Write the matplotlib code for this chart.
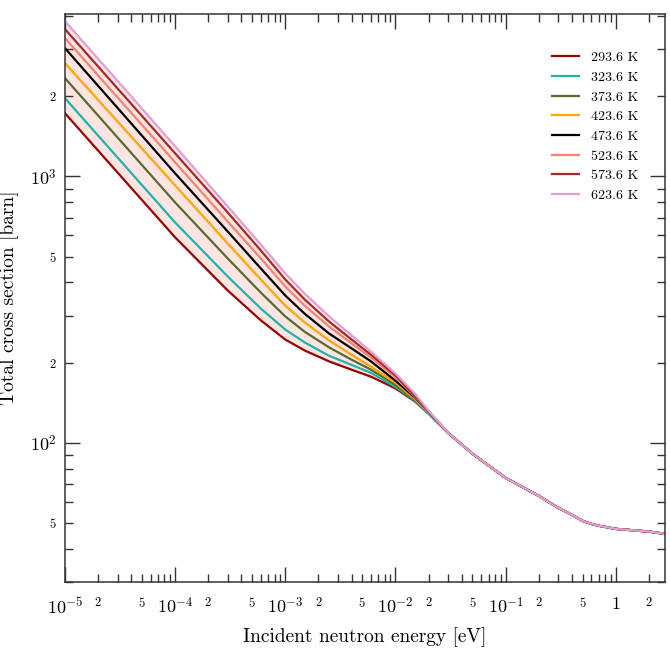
import numpy as np
import matplotlib
matplotlib.use("Agg")
import matplotlib.pyplot as plt
from matplotlib.ticker import LogLocator, FuncFormatter

plt.rcParams['font.family'] = 'serif'
plt.rcParams['font.serif'] = ['cmr10']
plt.rcParams['mathtext.fontset'] = 'cm'
plt.rcParams['axes.formatter.use_mathtext'] = True

# energies [eV] where the curves still differ
energy_low = [1e-5, 1e-4, 3e-4, 6e-4, 1e-3, 1.5e-3, 2.5e-3, 4e-3, 6e-3,
              1e-2, 1.5e-2, 2e-2]
# energies where all temperatures coincide
energy_tail = [3e-2, 5e-2, 0.1, 0.2, 0.3, 0.4, 0.5, 0.6, 0.7, 1.0, 2.0, 2.8]
xs_tail = [109, 91, 73.8, 63.2, 57.0, 53.6, 50.9, 49.6, 48.8, 47.5, 46.4, 45.5]

temps = ['293.6 K', '323.6 K', '373.6 K', '423.6 K',
         '473.6 K', '523.6 K', '573.6 K', '623.6 K']
xs_low = {
    '293.6 K': [1725, 590, 373, 288, 244, 222, 202, 188, 177, 160, 143, 128.5],
    '323.6 K': [1965, 671, 421, 319, 266, 238, 212, 196, 183, 162, 144, 128.5],
    '373.6 K': [2336, 798, 492, 366, 298, 261, 228, 205, 188, 165, 145, 130],
    '423.6 K': [2660, 925, 560, 410, 327, 283, 242, 214, 193, 168, 146, 130],
    '473.6 K': [3028, 1026, 621, 451, 357, 305, 257, 226, 202, 171, 148, 131],
    '523.6 K': [3303, 1129, 677, 492, 386, 327, 273, 236, 209, 176, 149, 131],
    '573.6 K': [3569, 1220, 732, 527, 410, 345, 285, 244, 214, 179, 150, 131],
    '623.6 K': [3825, 1297, 771, 555, 432, 363, 298, 253, 220, 182, 153, 132],
}
colors = ['#990000', '#20b2aa', '#556b2f', '#ffa500',
          '#000000', '#fa8072', '#a52a2a', '#dda0dd']

energy = np.array(energy_low + energy_tail)

fig = plt.figure(figsize=(6.7, 6.59), dpi=100)
ax = fig.add_axes([0.097, 0.1168, 0.8955, 0.862])

curves = {t: np.array(xs_low[t] + xs_tail, dtype=float) for t in temps}
ax.fill_between(energy, curves[temps[0]], curves[temps[-1]],
                color='salmon', alpha=0.2, linewidth=0)
for t, c in zip(temps, colors):
    ax.plot(energy, curves[t], color=c, lw=1.6, label=t)

ax.set_xscale('log')
ax.set_yscale('log')
ax.set_xlim(1e-5, 2.8)
ax.set_ylim(30, 4070)

def major_fmt(v, pos):
    e = int(round(np.log10(v)))
    if e == 0:
        return '$1$'
    return '$10^{%d}$' % e

def minor_fmt(v, pos):
    m = v / 10 ** np.floor(np.log10(v) + 1e-9)
    m = int(round(m))
    return '$%d$' % m if m in (2, 5) else ''

for axis in (ax.xaxis, ax.yaxis):
    axis.set_major_locator(LogLocator(base=10, numticks=20))
    axis.set_minor_locator(LogLocator(base=10, subs=np.arange(2, 10), numticks=20))
    axis.set_major_formatter(FuncFormatter(major_fmt))
    axis.set_minor_formatter(FuncFormatter(minor_fmt))

ax.tick_params(which='both', direction='in', top=True, right=True,
               color='#333333', width=1.0)
ax.tick_params(which='major', length=11, labelsize=13)
ax.tick_params(which='minor', length=5.5, labelsize=9)
ax.tick_params(axis='x', which='both', pad=10)
ax.tick_params(axis='y', which='both', pad=6)

for sp in ax.spines.values():
    sp.set_color('#333333')
    sp.set_linewidth(1.1)

ax.set_xlabel('Incident neutron energy [eV]', fontsize=14, labelpad=8)
ax.set_ylabel('Total cross section [barn]', fontsize=14, labelpad=8)

ax.legend(loc='upper right', frameon=False, fontsize=10,
          handlelength=2.0, borderaxespad=1.2, bbox_to_anchor=(0.992, 0.973))

fig.savefig('out.png', dpi=100)
